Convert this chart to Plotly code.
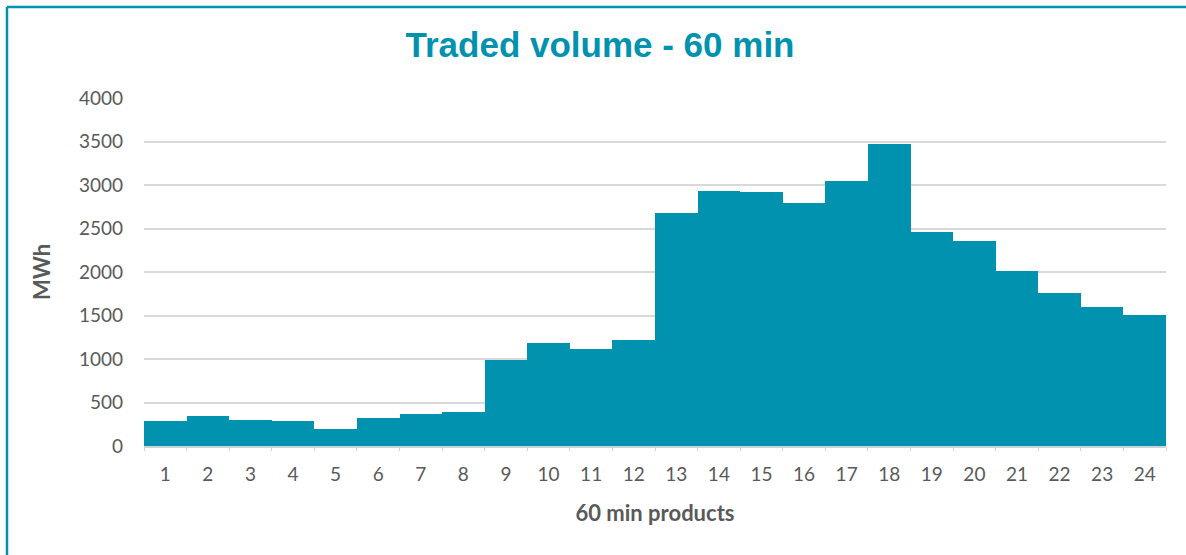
import plotly.graph_objects as go

products = [str(i) for i in range(1, 25)]
volume_mwh = [288, 345, 303, 291, 199, 326, 364, 395, 989, 1181, 1116, 1220,
              2677, 2926, 2915, 2796, 3049, 3471, 2458, 2362, 2017, 1756, 1599, 1511]
y_ticks = [0, 500, 1000, 1500, 2000, 2500, 3000, 3500, 4000]

TEAL = "#0092AF"
TEXT = "#595959"

fig = go.Figure()
fig.add_trace(go.Bar(
    x=products, y=volume_mwh,
    marker=dict(color=TEAL, line=dict(color=TEAL, width=0)),
    hoverinfo="x+y",
))

W, H = 1186, 555
L, R, T, B = 144, 20, 98, 109
pw, ph = W - L - R, H - T - B

def px_x(p):
    return (p - L) / pw

def px_y(p):
    return (H - B - p) / ph

fig.update_layout(
    width=W, height=H,
    margin=dict(l=L, r=R, t=T, b=B, autoexpand=False),
    paper_bgcolor="white", plot_bgcolor="white",
    bargap=0,
    showlegend=False,
    title=dict(text="<b>Traded volume - 60 min</b>", x=600 / W, xanchor="center",
               y=1 - 45 / H, yanchor="middle",
               font=dict(family="Liberation Sans, Arial", size=35, color=TEAL)),
    font=dict(family="Lato, Open Sans, sans-serif", color=TEXT),
    xaxis=dict(
        type="category",
        tickfont=dict(size=19, color=TEXT),
        showgrid=False,
        showline=True, linecolor="#CCD3D6", linewidth=2,
        ticks="outside", tickson="boundaries", ticklen=3, tickcolor="#CCD3D6",
        ticklabelstandoff=10,
        title=dict(text="<b>60 min products</b>", font=dict(size=22, color=TEXT), standoff=22),
    ),
    yaxis=dict(
        range=[0, 4000],
        tickvals=y_ticks,
        tickfont=dict(size=19, color=TEXT),
        showgrid=True, gridcolor="#D9D9D9", gridwidth=1.5,
        zeroline=False, showline=False,
        ticks="", ticklabelstandoff=20,
        title=dict(text="<b>MWh</b>", font=dict(size=22, color=TEXT), standoff=22),
    ),
    shapes=[
        dict(type="line", xref="paper", yref="paper",
             x0=px_x(7), x1=px_x(1190), y0=px_y(7), y1=px_y(7),
             line=dict(color=TEAL, width=2.5)),
        dict(type="line", xref="paper", yref="paper",
             x0=px_x(7), x1=px_x(7), y0=px_y(7), y1=px_y(560),
             line=dict(color=TEAL, width=2.5)),
    ],
)

fig.write_html("out.html", config={"displayModeBar": False},
               post_script="document.body.style.margin='0';document.body.style.padding='0';")
